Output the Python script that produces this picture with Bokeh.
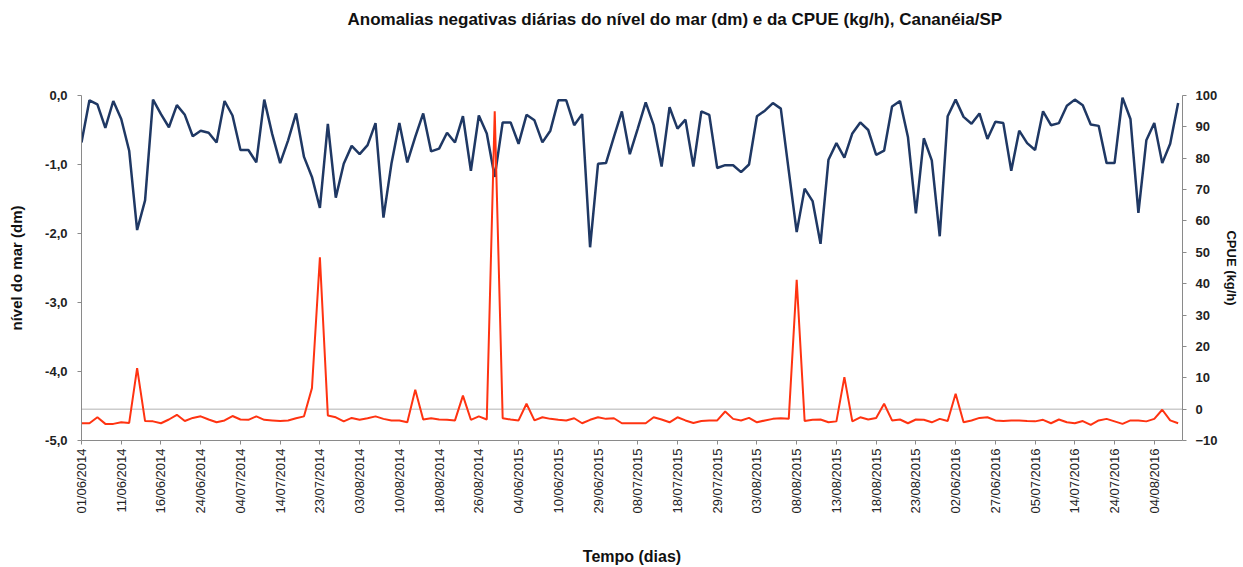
import math
from bokeh.plotting import figure
from bokeh.models import (Range1d, LinearAxis, FixedTicker, Span, Title,
                          CustomJSTickFormatter)
from bokeh.embed import file_html
from bokeh.resources import INLINE

# ---------------- data ----------------
tick_dates = ["01/06/2014", "11/06/2014", "16/06/2014", "24/06/2014", "04/07/2014",
              "14/07/2014", "23/07/2014", "03/08/2014", "10/08/2014", "18/08/2014",
              "26/08/2014", "04/06/2015", "10/06/2015", "29/06/2015", "08/07/2015",
              "18/07/2015", "29/07/2015", "03/08/2015", "08/08/2015", "13/08/2015",
              "18/08/2015", "23/08/2015", "02/06/2016", "27/06/2016", "05/07/2016",
              "14/07/2016", "24/07/2016", "04/08/2016"]

nivel_mar = [-0.68, -0.07, -0.13, -0.47, -0.08, -0.34, -0.80, -1.95, -1.52, -0.06,
             -0.27, -0.46, -0.14, -0.28, -0.59, -0.51, -0.54, -0.68, -0.08, -0.29,
             -0.79, -0.79, -0.97, -0.06, -0.56, -0.98, -0.65, -0.26, -0.89, -1.18,
             -1.63, -0.41, -1.48, -0.99, -0.73, -0.85, -0.72, -0.40, -1.77, -0.99,
             -0.40, -0.97, -0.60, -0.26, -0.81, -0.77, -0.54, -0.68, -0.30, -1.09,
             -0.29, -0.55, -1.18, -0.39, -0.39, -0.70, -0.28, -0.36, -0.68, -0.51,
             -0.07, -0.07, -0.43, -0.27, -2.20, -0.99, -0.98, -0.60, -0.23, -0.85,
             -0.48, -0.10, -0.43, -1.03, -0.17, -0.48, -0.35, -1.03, -0.23, -0.28,
             -1.05, -1.01, -1.01, -1.11, -1.00, -0.30, -0.22, -0.11, -0.19, -1.09,
             -1.98, -1.35, -1.53, -2.15, -0.93, -0.69, -0.90, -0.55, -0.39, -0.50,
             -0.86, -0.80, -0.16, -0.08, -0.60, -1.71, -0.62, -0.94, -2.04, -0.30,
             -0.06, -0.31, -0.41, -0.26, -0.63, -0.38, -0.40, -1.09, -0.51, -0.69,
             -0.79, -0.23, -0.43, -0.40, -0.15, -0.06, -0.14, -0.42, -0.44, -0.98,
             -0.98, -0.03, -0.34, -1.70, -0.65, -0.40, -0.98, -0.70, -0.11]

cpue = [-4.5, -4.5, -2.6, -4.7, -4.7, -4.2, -4.4, 13.1, -3.8, -3.9,
        -4.5, -3.3, -1.8, -3.8, -2.8, -2.3, -3.3, -4.2, -3.6, -2.2,
        -3.3, -3.4, -2.3, -3.4, -3.6, -3.8, -3.6, -2.9, -2.3, 6.7,
        48.4, -2.0, -2.6, -3.9, -2.8, -3.4, -2.9, -2.3, -3.1, -3.6,
        -3.6, -4.2, 6.2, -3.3, -2.9, -3.3, -3.4, -3.6, 4.3, -3.4,
        -2.3, -3.3, 95.0, -2.9, -3.3, -3.6, 1.7, -3.6, -2.6, -3.1,
        -3.4, -3.6, -2.9, -4.5, -3.4, -2.6, -3.1, -2.9, -4.5, -4.5,
        -4.5, -4.5, -2.6, -3.3, -4.2, -2.6, -3.6, -4.4, -3.8, -3.6,
        -3.6, -0.75, -3.1, -3.6, -2.8, -4.2, -3.6, -3.1, -2.9, -3.1,
        41.2, -3.8, -3.4, -3.3, -4.2, -3.9, 10.2, -3.9, -2.6, -3.3,
        -2.8, 1.7, -3.6, -3.3, -4.5, -3.3, -3.4, -4.2, -3.1, -3.8,
        4.9, -4.2, -3.6, -2.8, -2.6, -3.6, -3.8, -3.6, -3.6, -3.8,
        -3.9, -3.4, -4.5, -3.3, -4.2, -4.5, -3.8, -5.0, -3.6, -3.1,
        -3.9, -4.7, -3.6, -3.6, -3.9, -3.1, -0.2, -3.6, -4.5]

title_text = "Anomalias negativas diárias do nível do mar (dm) e da CPUE (kg/h), Cananéia/SP"

# ---------------- figure ----------------
n = len(nivel_mar)
xs = list(range(n))
tick_pos = list(range(0, n, 5))[:len(tick_dates)]

NAVY = "#1f3864"
RED = "#ff3311"
AXIS = "#8a8a8a"
FONT = "Liberation Sans"

p = figure(width=1243, height=567, output_backend="svg", toolbar_location=None,
           x_range=Range1d(0, 138.55), y_range=Range1d(-5, 0),
           min_border_left=81, min_border_right=61, min_border_top=0,
           min_border_bottom=127, title=None)
p.outline_line_color = None
p.background_fill_color = "white"
p.border_fill_color = "white"
p.xgrid.visible = False
p.ygrid.visible = False
p.extra_y_ranges = {"cpue": Range1d(-10, 100)}

# spacer between the frame and the title (closest to the frame)
p.add_layout(Title(text=" ", text_font=FONT, text_font_size="16px", standoff=41), "above")
# main title (outermost)
p.add_layout(Title(text=title_text, text_font=FONT, text_font_size="17px",
                   text_font_style="bold", text_color="#111111",
                   align="left", offset=266, standoff=14), "above")

zero = Span(location=0, dimension="width", y_range_name="cpue",
            line_color="#cccccc", line_width=1.5, level="underlay")
p.add_layout(zero)

p.line(xs, nivel_mar, line_color=NAVY, line_width=2.5)
p.line(xs, cpue, y_range_name="cpue", line_color=RED, line_width=2)

# x axis
xa = p.xaxis[0]
xa.ticker = FixedTicker(ticks=tick_pos)
xa.major_label_overrides = {t: d for t, d in zip(tick_pos, tick_dates)}
xa.major_label_orientation = math.pi / 2
xa.major_label_text_font = FONT
xa.major_label_text_font_size = "13px"
xa.major_label_text_color = "#222222"
xa.major_label_standoff = 4
xa.minor_tick_line_color = None
xa.major_tick_in = 0
xa.major_tick_out = 4
xa.axis_line_color = AXIS
xa.major_tick_line_color = AXIS
xa.axis_label = "Tempo (dias)"
xa.axis_label_text_font = FONT
xa.axis_label_text_font_size = "16px"
xa.axis_label_text_font_style = "bold"
xa.axis_label_text_color = "#111111"
xa.axis_label_standoff = 31

# left axis
ya = p.yaxis[0]
ya.ticker = FixedTicker(ticks=[-5, -4, -3, -2, -1, 0])
ya.formatter = CustomJSTickFormatter(code="return tick.toFixed(1).replace('.', ',');")
ya.major_label_text_font = FONT
ya.major_label_text_font_size = "13px"
ya.major_label_text_font_style = "bold"
ya.major_label_text_color = "#222222"
ya.major_label_standoff = 10
ya.minor_tick_line_color = None
ya.major_tick_in = 0
ya.major_tick_out = 4
ya.axis_line_color = AXIS
ya.major_tick_line_color = AXIS
ya.axis_label = "nível do mar (dm)"
ya.axis_label_text_font = FONT
ya.axis_label_text_font_size = "15px"
ya.axis_label_text_font_style = "bold"
ya.axis_label_text_color = "#111111"
ya.axis_label_standoff = 17

# right axis
ra = LinearAxis(y_range_name="cpue", ticker=FixedTicker(ticks=list(range(-10, 101, 10))))
ra.major_label_text_font = FONT
ra.major_label_text_font_size = "13px"
ra.major_label_text_font_style = "bold"
ra.major_label_text_color = "#222222"
ra.major_label_standoff = 9
ra.minor_tick_line_color = None
ra.major_tick_in = 0
ra.major_tick_out = 4
ra.axis_line_color = AXIS
ra.major_tick_line_color = AXIS
ra.axis_label = "CPUE (kg/h)"
ra.axis_label_text_font = FONT
ra.axis_label_text_font_size = "13px"
ra.axis_label_text_font_style = "bold"
ra.axis_label_text_color = "#111111"
ra.axis_label_standoff = 3
p.add_layout(ra, "right")

open("out.html", "w").write(file_html(p, INLINE))
